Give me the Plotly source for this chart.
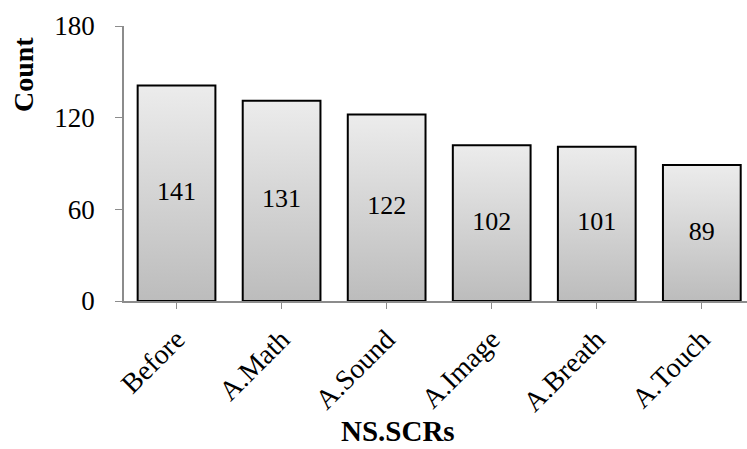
import plotly.graph_objects as go

categories = ["Before", "A.Math", "A.Sound", "A.Image", "A.Breath", "A.Touch"]
counts = [141, 131, 122, 102, 101, 89]
y_ticks = [0, 60, 120, 180]

FONT = "Liberation Serif"
half_w = 0.37
W, H = 747, 449
ML, MR, MT, MB = 124, 0, 26, 148

fig = go.Figure()
for i, (cat, v) in enumerate(zip(categories, counts)):
    fig.add_trace(go.Scatter(
        x=[i - half_w, i - half_w, i + half_w, i + half_w, i - half_w],
        y=[0, v, v, 0, 0],
        mode="lines",
        fill="toself",
        fillgradient=dict(type="vertical",
                          colorscale=[[0, "#bcbcbc"], [1, "#ececec"]]),
        line=dict(color="black", width=2),
        hoverinfo="skip",
        showlegend=False,
    ))

fig.add_trace(go.Scatter(
    x=list(range(len(categories))),
    y=[v / 2 for v in counts],
    mode="text",
    text=[str(v) for v in counts],
    textfont=dict(family=FONT, size=26, color="black"),
    showlegend=False,
    hoverinfo="skip",
))

pw = W - ML - MR
ph = H - MT - MB
fig.add_annotation(
    text="<b>NS.SCRs</b>", xref="paper", yref="paper",
    x=(398 - ML) / pw, y=-(431 - (H - MB)) / ph,
    xanchor="center", yanchor="middle", showarrow=False,
    font=dict(family=FONT, size=29, color="black"),
)
fig.add_annotation(
    text="<b>Count</b>", xref="paper", yref="paper",
    x=-(ML - 23) / pw, y=1 - (75 - MT) / ph,
    xanchor="center", yanchor="middle", showarrow=False, textangle=-90,
    font=dict(family=FONT, size=28, color="black"),
)

fig.update_layout(
    width=W, height=H,
    margin=dict(l=ML, r=MR, t=MT, b=MB, autoexpand=False),
    paper_bgcolor="white", plot_bgcolor="white",
    font=dict(family=FONT, color="black"),
)
fig.update_xaxes(
    range=[-0.5, 5.43],
    automargin=False,
    tickmode="array",
    tickvals=list(range(len(categories))),
    ticktext=categories,
    tickangle=-45,
    tickfont=dict(family=FONT, size=28, color="black"),
    ticks="outside", ticklen=6, tickcolor="#8c8c8c", tickwidth=1,
    ticklabelstandoff=3,
    showline=True, linecolor="#8c8c8c", linewidth=1.5,
    showgrid=False, zeroline=False,
)
fig.update_yaxes(
    range=[0, 180],
    automargin=False,
    tickmode="array",
    tickvals=y_ticks,
    tickfont=dict(family=FONT, size=27, color="black"),
    ticks="outside", ticklen=7, tickcolor="#8c8c8c", tickwidth=1,
    ticklabelstandoff=15,
    showline=True, linecolor="#8c8c8c", linewidth=1.5,
    showgrid=False, zeroline=False,
)

fig.write_html(
    "out.html",
    config={"displayModeBar": False},
    post_script="document.body.style.margin='0';document.body.style.overflow='hidden';",
)
